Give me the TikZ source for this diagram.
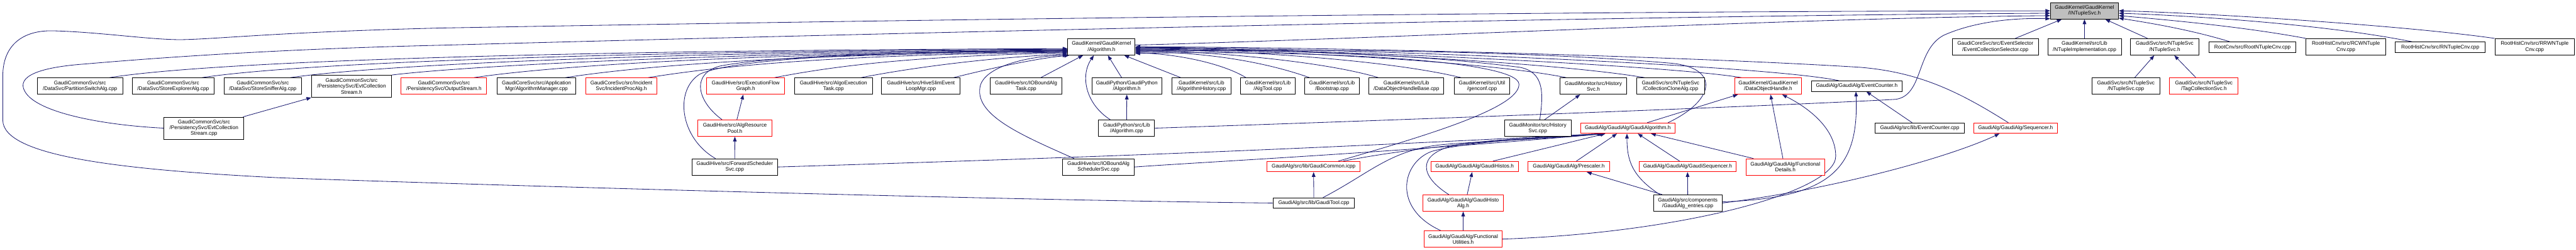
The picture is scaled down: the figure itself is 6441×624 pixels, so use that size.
\documentclass[tikz,border=0pt]{standalone}
\usepackage{fontspec}
\setmainfont{Liberation Sans}
\usetikzlibrary{arrows.meta,calc}
\pgfdeclarelayer{bglayer}
\pgfdeclarelayer{edgelayer}
\pgfsetlayers{bglayer,edgelayer,main}
\definecolor{edgec}{RGB}{25,25,112}
\definecolor{nodered}{RGB}{255,0,0}
\definecolor{nodegray}{RGB}{191,191,191}
\begin{document}
\begin{tikzpicture}[x=1pt,y=-1pt,
  nb/.style={draw=black,line width=1.4pt,fill=white,align=center,inner sep=1pt,
    font=\fontsize{13}{14.3}\selectfont},
  rb/.style={nb,draw=nodered},
  gb/.style={nb,fill=nodegray},
  mw/.style={minimum width=#1pt},
  ha/.style={minimum height=26pt},
  hb/.style={minimum height=41pt},
  hc/.style={minimum height=55pt},
  e/.style={draw=edgec,line width=1.3pt,-{Triangle[length=12pt,width=9pt]}},
]
\useasboundingbox (0,0) rectangle (6441,624);
\begin{pgfonlayer}{bglayer}
\fill[white] (0,0) rectangle (6441,624);
\end{pgfonlayer}

% rank 0
\node[gb,mw=170,hb] (intuple) at (5212,27) {GaudiKernel/GaudiKernel\\/INTupleSvc.h};
% rank 1
\node[nb,mw=168,hb] (alg) at (2754,117) {GaudiKernel/GaudiKernel\\/Algorithm.h};
\node[nb,mw=216,hb] (evsel) at (4989,117) {GaudiCoreSvc/src/EventSelector\\/EventCollectionSelector.cpp};
\node[nb,mw=184,hb] (ntimpl) at (5212,117) {GaudiKernel/src/Lib\\/NTupleImplementation.cpp};
\node[nb,mw=171,hb] (ntsvch) at (5412.5,117) {GaudiSvc/src/NTupleSvc\\/NTupleSvc.h};
\node[nb,mw=218,ha] (rootnt) at (5632,118) {RootCnv/src/RootNTupleCnv.cpp};
\node[nb,mw=199,hb] (rcwn) at (5865.5,117) {RootHistCnv/src/RCWNTuple\\Cnv.cpp};
\node[nb,mw=225,ha] (rnt) at (6101.5,118) {RootHistCnv/src/RNTupleCnv.cpp};
\node[nb,mw=199,hb] (rrwn) at (6337.5,117) {RootHistCnv/src/RRWNTuple\\Cnv.cpp};
% rank 2
\node[nb,mw=214,hb] (psw) at (200,215) {GaudiCommonSvc/src\\/DataSvc/PartitionSwitchAlg.cpp};
\node[nb,mw=204,hb] (sexp) at (433,215) {GaudiCommonSvc/src\\/DataSvc/StoreExplorerAlg.cpp};
\node[nb,mw=194,hb] (ssnf) at (657,215) {GaudiCommonSvc/src\\/DataSvc/StoreSnifferAlg.cpp};
\node[nb,mw=200,hc] (ecsh) at (879,215.5) {GaudiCommonSvc/src\\/PersistencySvc/EvtCollection\\Stream.h};
\node[rb,mw=214,hb] (outs) at (1110,215) {GaudiCommonSvc/src\\/PersistencySvc/OutputStream.h};
\node[nb,mw=197,hb] (algmgr) at (1341.5,215) {GaudiCoreSvc/src/Application\\Mgr/AlgorithmManager.cpp};
\node[rb,mw=179,hb] (incp) at (1553.5,215) {GaudiCoreSvc/src/Incident\\Svc/IncidentProcAlg.h};
\node[rb,mw=195,hb] (efg) at (1864.5,215) {GaudiHive/src/ExecutionFlow\\Graph.h};
\node[nb,mw=194,hb] (aet) at (2084,215) {GaudiHive/src/AlgoExecution\\Task.cpp};
\node[nb,mw=197,hb] (hslm) at (2302.5,215) {GaudiHive/src/HiveSlimEvent\\LoopMgr.cpp};
\node[nb,mw=179,hb] (iobt) at (2565.5,215) {GaudiHive/src/IOBoundAlg\\Task.cpp};
\node[nb,mw=175,hb] (gpalgh) at (2817.5,215) {GaudiPython/GaudiPython\\/Algorithm.h};
\node[nb,mw=148,hb] (alghist) at (3004,215) {GaudiKernel/src/Lib\\/AlgorithmHistory.cpp};
\node[nb,mw=136,hb] (algtool) at (3170,215) {GaudiKernel/src/Lib\\/AlgTool.cpp};
\node[nb,mw=137,hb] (boot) at (3330.5,215) {GaudiKernel/src/Lib\\/Bootstrap.cpp};
\node[nb,mw=187,hb] (dohb) at (3516.5,215) {GaudiKernel/src/Lib\\/DataObjectHandleBase.cpp};
\node[nb,mw=139,hb] (genconf) at (3705.5,215) {GaudiKernel/src/Util\\/genconf.cpp};
\node[nb,mw=166,hb] (histh) at (3984,215) {GaudiMonitor/src/History\\Svc.h};
\node[nb,mw=170,hb] (cclone) at (4177,215) {GaudiSvc/src/NTupleSvc\\/CollectionCloneAlg.cpp};
\node[rb,mw=166,hb] (doh) at (4421,215) {GaudiKernel/GaudiKernel\\/DataObjectHandle.h};
\node[nb,mw=227,ha] (evch) at (4642.5,215) {GaudiAlg/GaudiAlg/EventCounter.h};
\node[nb,mw=169,hb] (ntsvcc) at (5315.5,215) {GaudiSvc/src/NTupleSvc\\/NTupleSvc.cpp};
\node[rb,mw=171,hb] (tagc) at (5510.5,215) {GaudiSvc/src/NTupleSvc\\/TagCollectionSvc.h};
% rank 3
\node[nb,mw=200,hc] (ecsc) at (510,320) {GaudiCommonSvc/src\\/PersistencySvc/EvtCollection\\Stream.cpp};
\node[rb,mw=185,hb] (arp) at (1837.5,320) {GaudiHive/src/AlgResource\\Pool.h};
\node[nb,mw=140,hb] (gpalgc) at (2817,320) {GaudiPython/src/Lib\\/Algorithm.cpp};
\node[nb,mw=166,hb] (histc) at (3845,320) {GaudiMonitor/src/History\\Svc.cpp};
\node[rb,mw=236,ha] (galg) at (4070,320) {GaudiAlg/GaudiAlg/GaudiAlgorithm.h};
\node[nb,mw=222,ha] (evcc) at (4800,320) {GaudiAlg/src/lib/EventCounter.cpp};
\node[rb,mw=209,ha] (seq) at (5039.5,320) {GaudiAlg/GaudiAlg/Sequencer.h};
% rank 4
\node[nb,mw=214,hb] (fwd) at (1837,417) {GaudiHive/src/ForwardScheduler\\Svc.cpp};
\node[nb,mw=179,hb] (iobs) at (2746.5,417) {GaudiHive/src/IOBoundAlg\\SchedulerSvc.cpp};
\node[rb,mw=233,ha] (gcom) at (3284.5,416) {GaudiAlg/src/lib/GaudiCommon.icpp};
\node[rb,mw=218,ha] (ghis) at (3687,416) {GaudiAlg/GaudiAlg/GaudiHistos.h};
\node[rb,mw=203,ha] (presc) at (3922.5,416) {GaudiAlg/GaudiAlg/Prescaler.h};
\node[rb,mw=243,ha] (gseq) at (4219.5,416) {GaudiAlg/GaudiAlg/GaudiSequencer.h};
\node[rb,mw=196,hb] (fdet) at (4464,417) {GaudiAlg/GaudiAlg/Functional\\Details.h};
% rank 5
\node[nb,mw=204,ha] (gtool) at (3285,507) {GaudiAlg/src/lib/GaudiTool.cpp};
\node[rb,mw=201,hb] (ghalg) at (3658.5,507) {GaudiAlg/GaudiAlg/GaudiHisto\\Alg.h};
\node[nb,mw=172,hb] (gaent) at (4220,507) {GaudiAlg/src/components\\/GaudiAlg\_entries.cpp};
% rank 6
\node[rb,mw=195,hb] (futil) at (3658.5,597) {GaudiAlg/GaudiAlg/Functional\\Utilities.h};

\begin{pgfonlayer}{edgelayer}
% into INTupleSvc.h
\draw[e] (alg.3) .. controls (3500,95) and (4500,45) .. (intuple.188);
\draw[e] (gtool.west) .. controls (2500,500) and (1200,462) .. (700,444) .. controls (300,424) and (7,390) .. (7,300) -- (7,190) .. controls (7,110) and (60,75) .. (133,77) .. controls (250,80) and (380,100) .. (456,99) .. controls (550,97) and (700,80) .. (1100,70) .. controls (2500,45) and (4000,28) .. (intuple.180);
\draw[e] (ecsc.west) .. controls (250,312) and (90,280) .. (62,228) .. controls (40,190) and (100,168) .. (210,160) .. controls (500,135) and (800,120) .. (1100,113) .. controls (2500,75) and (4200,38) .. (intuple.184);
\draw[e] (gpalgc.east) .. controls (3500,300) and (4500,262) .. (4740,248) .. controls (4810,238) and (4790,125) .. (4860,88) .. controls (4950,48) and (5060,45) .. (intuple.193);
\draw[e] ($(evsel.north)+(50,0)$) -- ($(intuple.south)+(-57,0)$);
\draw[e] (ntimpl.north) -- (intuple.south);
\draw[e] ($(ntsvch.north)+(-43,0)$) -- ($(intuple.south)+(52,0)$);
\draw[e] ($(rootnt.north)+(-56,0)$) .. controls (5480,75) and (5380,58) .. (intuple.-12);
\draw[e] (rcwn.north west) .. controls (5600,65) and (5400,48) .. (intuple.-8);
\draw[e] ($(rnt.north)+(-70,0)$) .. controls (5800,58) and (5450,38) .. (intuple.-4);
\draw[e] (rrwn.north west) .. controls (6000,62) and (5500,32) .. (intuple.0);
% into NTupleSvc.h
\draw[e] ($(ntsvcc.north)+(22,0)$) -- ($(ntsvch.south)+(-26,0)$);
\draw[e] ($(tagc.north)+(-20,0)$) -- ($(ntsvch.south)+(24,0)$);
% into Algorithm.h from the left
\draw[e] ($(psw.north)+(74,0)$) .. controls (550,150) and (1500,125) .. (alg.183);
\draw[e] ($(sexp.north)+(72,0)$) .. controls (760,155) and (1600,127) .. (alg.184);
\draw[e] ($(ssnf.north)+(69,0)$) .. controls (960,160) and (1700,129) .. (alg.185);
\draw[e] (ecsh.north east) .. controls (1160,165) and (1800,131) .. (alg.186);
\draw[e] ($(outs.north)+(75,0)$) .. controls (1400,162) and (1900,133) .. (alg.187);
\draw[e] ($(algmgr.north)+(72,0)$) .. controls (1620,162) and (2000,135) .. (alg.188);
\draw[e] ($(incp.north)+(67,0)$) .. controls (1820,162) and (2100,137) .. (alg.189);
\draw[e] ($(efg.north)+(72,0)$) .. controls (2100,162) and (2300,140) .. (alg.190);
\draw[e] ($(aet.north)+(69,0)$) .. controls (2300,165) and (2500,142) .. (alg.192);
\draw[e] ($(hslm.north)+(82,0)$) .. controls (2500,165) and (2600,145) .. ($(alg.south west)+(4,0)$);
\draw[e] ($(arp.north)+(-32,0)$) .. controls (1745,255) and (1725,185) .. (1800,165) .. controls (1950,135) and (2400,128) .. (alg.186);
\draw[e] ($(fwd.north)+(-48,0)$) .. controls (1700,345) and (1685,225) .. (1750,185) .. controls (1850,140) and (2300,128) .. (alg.187);
% Hive scheduler
\draw[e] (fwd.north) -- (arp.south);
\draw[e] ($(arp.north)+(5,0)$) -- ($(efg.south)+(-6,0)$);
\draw[e] (fwd.east) .. controls (2750,392) and (3200,375) .. ($(galg.south)+(-62,0)$);
\draw[e] (iobs.east) .. controls (3000,405) and (3500,380) .. ($(galg.south)+(-58,0)$);
% into Algorithm.h from below
\draw[e] ($(iobt.north)+(37,0)$) -- ($(alg.south)+(-46,0)$);
\draw[e] ($(gpalgh.north)+(-13,0)$) -- ($(alg.south)+(16,0)$);
\draw[e] ($(alghist.north west)+(23,0)$) -- ($(alg.south)+(57,0)$);
\draw[e] ($(iobs.north)+(-61,0)$) .. controls (2560,340) and (2440,290) .. (2450,220) .. controls (2455,170) and (2560,140) .. (alg.south west);
\draw[e] ($(gpalgc.north)+(-41,0)$) .. controls (2715,260) and (2700,190) .. ($(alg.south)+(-19,0)$);
\draw[e] (gpalgc.north) -- (gpalgh.south);
% into Algorithm.h from the right
\draw[e] ($(algtool.north west)+(14,0)$) .. controls (3060,160) and (2950,135) .. (alg.-10);
\draw[e] ($(boot.north west)+(13,0)$) .. controls (3150,150) and (3000,130) .. (alg.-8);
\draw[e] ($(dohb.north west)+(24,0)$) .. controls (3300,150) and (3000,127) .. (alg.-6);
\draw[e] ($(genconf.north west)+(18,0)$) .. controls (3450,145) and (3050,124) .. (alg.-5);
\draw[e] ($(histh.north west)+(16,0)$) .. controls (3700,150) and (3100,122) .. (alg.-4);
\draw[e] ($(cclone.north west)+(21,0)$) .. controls (3850,150) and (3150,120) .. (alg.-3);
\draw[e] ($(doh.north west)+(17,0)$) .. controls (4150,160) and (3200,119) .. (alg.-2);
\draw[e] ($(evch.north)+(-45,0)$) .. controls (4400,160) and (3300,118) .. (alg.-1);
\draw[e] ($(seq.north)+(-18,0)$) .. controls (4900,230) and (4800,180) .. (4650,168) .. controls (4200,140) and (3300,117) .. (alg.0);
\draw[e] ($(histc.north)+(5,0)$) .. controls (3860,230) and (3860,180) .. (3800,168) .. controls (3500,130) and (3100,122) .. (alg.-7);
\draw[e] ($(galg.north east)+(-18,0)$) .. controls (4290,250) and (4300,170) .. (4180,158) .. controls (3800,125) and (3200,120) .. (alg.-9);
\draw[e] ($(gcom.north)+(62,0)$) .. controls (3560,340) and (3800,270) .. (3798,210) .. controls (3795,150) and (3300,125) .. (alg.-11);
\draw[e] ($(histc.north)+(17,0)$) -- ($(histh.south)+(-33,0)$);
% GaudiAlgorithm.h and friends
\draw[e] ($(galg.north east)+(-70,0)$) -- ($(doh.south west)+(8,0)$);
\draw[e] ($(gcom.north)+(74,0)$) .. controls (3550,365) and (3800,345) .. ($(galg.south)+(-64,0)$);
\draw[e] ($(gtool.north)+(23,0)$) .. controls (3430,430) and (3480,370) .. (3620,360) .. controls (3750,350) and (3900,345) .. ($(galg.south)+(-62,0)$);
\draw[e] ($(ghalg.north)+(-36,0)$) .. controls (3550,440) and (3540,385) .. (3640,362) .. controls (3750,345) and (3900,343) .. ($(galg.south)+(-60,0)$);
\draw[e] ($(futil.north)+(-56,0)$) .. controls (3480,520) and (3505,405) .. (3580,378) .. controls (3680,350) and (3900,343) .. ($(galg.south)+(-58,0)$);
\draw[e] ($(ghis.north)+(46,0)$) -- ($(galg.south)+(-56,0)$);
\draw[e] ($(presc.north)+(19,0)$) -- ($(galg.south)+(-27,0)$);
\draw[e] ($(gaent.north)+(-70,0)$) .. controls (4080,440) and (4068,400) .. ($(galg.south)+(-2,0)$);
\draw[e] ($(gaent.north)+(-64,0)$) -- ($(presc.south)+(45,0)$);
\draw[e] (gaent.north) -- (gseq.south);
\draw[e] ($(gseq.north)+(-20,0)$) -- ($(galg.south)+(25,0)$);
\draw[e] ($(fdet.north west)+(19,0)$) -- ($(galg.south)+(58,0)$);
\draw[e] ($(fdet.north)+(-6,0)$) -- ($(doh.south)+(6,0)$);
\draw[e] (futil.east) .. controls (4200,582) and (4590,480) .. (4590,390) .. controls (4590,320) and (4520,268) .. ($(doh.south)+(35,0)$);
\draw[e] ($(gaent.east)+(0,-3)$) .. controls (4580,495) and (4648,420) .. ($(evch.south)+(-2,0)$);
\draw[e] (gaent.east) .. controls (4600,470) and (4880,390) .. ($(seq.south)+(-40,0)$);
\draw[e] ($(evcc.north)+(-19,0)$) -- ($(evch.south)+(24,0)$);
\draw[e] ($(ecsc.north east)+(-3,0)$) -- (ecsh.south west);
\draw[e] (gtool.north) -- (gcom.south);
\draw[e] ($(ghalg.north)+(10,0)$) -- ($(ghis.south)+(-6,0)$);
\draw[e] (futil.north) -- (ghalg.south);
\end{pgfonlayer}
\end{tikzpicture}
\end{document}
